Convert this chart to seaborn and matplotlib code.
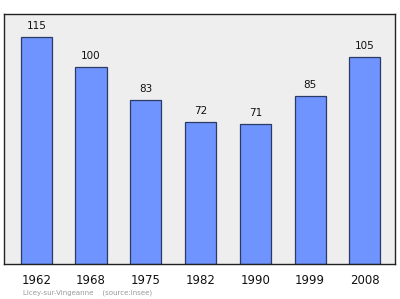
import matplotlib
matplotlib.use("Agg")
import matplotlib.pyplot as plt
import seaborn as sns
import pandas as pd

years = ["1962", "1968", "1975", "1982", "1990", "1999", "2008"]
population = [115, 100, 83, 72, 71, 85, 105]
footer = "Licey-sur-Vingeanne    (source:Insee)"

df = pd.DataFrame({"year": years, "pop": population})

sns.set_theme(style="white")
plt.rcParams['font.family'] = ['DejaVu Sans']

fig = plt.figure(figsize=(4.0, 2.99), dpi=100)
ax = fig.add_axes([4/400, 1 - 264/299, 391/400, 250/299])
ax.set_facecolor("#eeeeee")

sns.barplot(data=df, x="year", y="pop", ax=ax, color="#7094ff", saturation=1,
            width=0.57, edgecolor="#2b3a66", linewidth=0.9)

ax.set_xlim(-0.59, 6.55)
ax.set_ylim(0, 126.6)
ax.set_xlabel("")
ax.set_ylabel("")
ax.set_yticks([])
ax.tick_params(axis="x", length=0, labelsize=8.5, pad=7, colors="#111111")
for s in ax.spines.values():
    s.set_color("#222222")
    s.set_linewidth(1.0)

for i, v in enumerate(population):
    ax.text(i, v + 3.0, str(v), ha="center", va="bottom", fontsize=7.5, color="#111111")

fig.text(23/400, 1 - 293/299, footer, ha="left", va="center", fontsize=5.0, color="#999999")

fig.savefig("out.png", dpi=100, facecolor="white")
